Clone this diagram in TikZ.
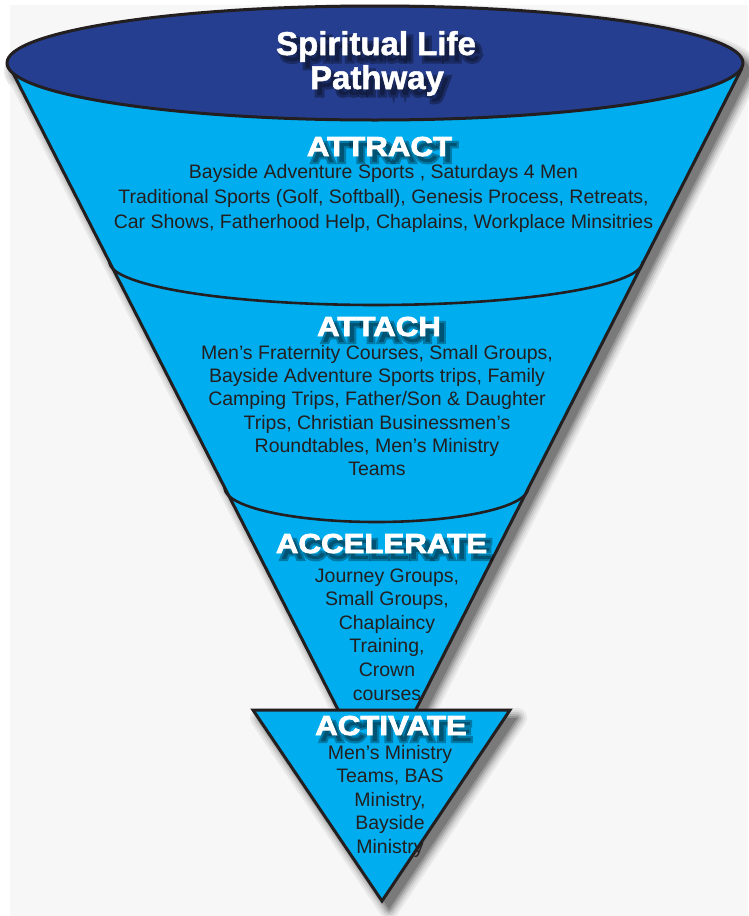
\documentclass[tikz,border=0pt]{standalone}
\usepackage{fontspec}
\setmainfont{Liberation Sans}
\newfontfamily\headfont{Liberation Sans Bold}[FakeStretch=1.14,FakeBold=3]
\newfontfamily\headshadefont{Liberation Sans Bold}[FakeStretch=1.14,FakeBold=16]
\newfontfamily\titlefont{Liberation Sans Bold}[FakeBold=1.5]
\newfontfamily\titleshadefont{Liberation Sans Bold}[FakeBold=16]
\definecolor{navy}{HTML}{263E8F}
\definecolor{cyanf}{HTML}{00AEEF}
\definecolor{ink}{HTML}{231F20}
\definecolor{bggray}{HTML}{F7F7F7}
\definecolor{shad}{HTML}{333333}
\tikzset{
  outline/.style={draw=ink, line width=3pt, line join=round},
  arcline/.style={draw=ink, line width=2.6pt, line cap=round},
  body/.style={font=\fontsize{19.5}{23.4}\selectfont, text=ink, inner sep=0pt, anchor=base},
  head/.style={font=\headfont\fontsize{27.4}{30}\selectfont, text=white, inner sep=0pt, anchor=base},
  headshade/.style={font=\headshadefont\fontsize{27.4}{30}\selectfont, text=black, opacity=0.3, inner sep=0pt, anchor=base},
  titletext/.style={font=\titlefont\fontsize{33}{36}\selectfont, text=white, inner sep=0pt, anchor=base},
  titletextshade/.style={font=\titleshadefont\fontsize{33}{36}\selectfont, text=black, opacity=0.3, inner sep=0pt, anchor=base},
}
\newcommand\shadedtext[5]{% style, name, x, y, text
  \node[#1shade, xshift=5pt, yshift=-6pt] (#2sh) at (#3,#4) {#5};
  \node[#1] (#2) at (#3,#4) {#5};
}
\begin{document}
\begin{tikzpicture}[x=1pt,y=-1pt]
\useasboundingbox (0,0) rectangle (748,916);
\fill[white] (0,0) rectangle (748,916);
\fill[bggray] (10,5) rectangle (748,916);

% drop shadow of the funnel
\begin{scope}[shift={(7,8)}]
  \foreach \w/\c in {20/7,16/14,12/24,8/36,4/50}{
    \draw[draw=shad!\c!bggray, line width=\w pt, line join=round]
      (375,63) ellipse [x radius=368, y radius=57]
      (13,73) -- (742,68) -- (377,786) -- cycle
      (253,710) -- (510,710) -- (382,901) -- cycle;
  }
  \fill[shad!64!bggray] (375,63) ellipse [x radius=368, y radius=57];
  \fill[shad!64!bggray] (13,73) -- (742,68) -- (377,786) -- cycle;
  \fill[shad!64!bggray] (253,710) -- (510,710) -- (382,901) -- cycle;
\end{scope}

% cone
\fill[cyanf] (13,73) -- (742,68) -- (377,786) -- cycle;
\draw[outline] (13,73) -- (377,786) -- (742,68);
% top ellipse
\draw[outline, fill=navy] (375,63) ellipse [x radius=368, y radius=57];
% band separators
\draw[arcline] plot[domain=180:360, samples=80, smooth] ({376+266.5*cos(\x)}, {262-43*sin(\x)});
\draw[arcline] plot[domain=180:360, samples=80, smooth] ({376.4+151.7*cos(\x)}, {488-34*sin(\x)});
% bottom triangle
\draw[draw=ink, line width=3pt, line join=miter, fill=cyanf] (253,710) -- (510,710) -- (382,901) -- cycle;

% titles
\shadedtext{titletext}{title1}{376}{55}{Spiritual Life}
\shadedtext{titletext}{title2}{377}{89}{Pathway}
\shadedtext{head}{attract}{379.5}{156}{ATTRACT}
\shadedtext{head}{attach}{379}{336}{ATTACH}
\shadedtext{head}{accelerate}{381.5}{553}{ACCELERATE}
\shadedtext{head}{activate}{391}{735}{ACTIVATE}

% body texts
\foreach \t [count=\i] in {{Bayside Adventure Sports , Saturdays 4 Men},{Traditional Sports (Golf, Softball), Genesis Process, Retreats,},{Car Shows, Fatherhood Help, Chaplains, Workplace Minsitries}}
  \node[body] (attractline\i) at (383.5,{178+(\i-1)*25}) {\t};
\foreach \t [count=\i] in {{Men’s Fraternity Courses, Small Groups,},{Bayside Adventure Sports trips, Family},{Camping Trips, Father/Son \& Daughter},{Trips, Christian Businessmen’s},{Roundtables, Men’s Ministry},{Teams}}
  \node[body] (attachline\i) at (377,{359.3+(\i-1)*23.3}) {\t};
\foreach \t [count=\i] in {{Journey Groups,},{Small Groups,},{Chaplaincy},{Training,},{Crown},{courses}}
  \node[body] (accelline\i) at (387,{582+(\i-1)*23.6}) {\t};
\foreach \t [count=\i] in {{Men’s Ministry},{Teams, BAS},{Ministry,},{Bayside},{Ministry}}
  \node[body] (activline\i) at (390,{759+(\i-1)*23.5}) {\t};
\end{tikzpicture}
\end{document}
